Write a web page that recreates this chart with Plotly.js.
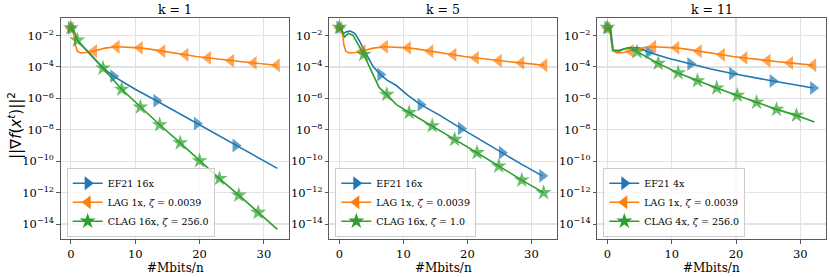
<!DOCTYPE html>
<html><head><meta charset="utf-8">
<script src="https://cdn.plot.ly/plotly-3.0.1.min.js"></script>
<style>html,body{margin:0;padding:0;background:#fff}#chart{width:830px;height:277px}</style>
</head><body><div id="chart"></div>
<script>
// ---------- data ----------
const panelTitles = ['k = 1', 'k = 5', 'k = 11'];
const xTitle = '#Mbits/n';
const yTitle = '||∇<i>f</i>(<i>x</i><sup><i>t</i></sup>)||<sup>2</sup>';
const xTickVals = [0, 10, 20, 30];
const yTickVals = [1e-2, 1e-4, 1e-6, 1e-8, 1e-10, 1e-12, 1e-14];
const yTickText = ['10<sup>−2</sup>', '10<sup>−4</sup>', '10<sup>−6</sup>', '10<sup>−8</sup>', '10<sup>−10</sup>', '10<sup>−12</sup>', '10<sup>−14</sup>'];

// LAG 1x, zeta = 0.0039 (same run in every panel)
const lag_x = [0, 0.4, 0.7, 1.0, 1.5, 2.5, 3.6, 5.3, 7.1, 9.0, 10.7, 12.5, 14.2, 16.0, 17.8, 19.5, 21.3, 23.0, 24.9, 26.6, 28.4, 30.2, 32.0];
const lag_y = [3.0e-2, 2.8e-2, 2.5e-3, 1.0e-3, 7.9e-4, 8.3e-4, 1.05e-3, 1.58e-3, 1.95e-3, 1.82e-3, 1.66e-3, 1.32e-3, 1.0e-3, 7.6e-4, 6.0e-4, 4.7e-4, 3.8e-4, 3.0e-4, 2.5e-4, 2.14e-4, 1.82e-4, 1.51e-4, 1.29e-4];
const lag_marks = [0, 6, 8, 10, 12, 14, 16, 18, 20, 22];

// k = 1
const k1_ef21_x = [0, 0.5, 1.0, 2, 3, 4, 5, 6.6, 8, 10, 13.3, 16, 19.6, 22, 25.6, 28, 32.1];
const k1_ef21_y = [3.16e-2, 1.26e-2, 5.0e-3, 1.78e-3, 6.3e-4, 2.4e-4, 8.9e-5, 2.6e-5, 1.12e-5, 3.8e-6, 7.1e-7, 1.7e-7, 2.5e-8, 6.9e-9, 1.0e-9, 2.9e-10, 3.5e-11];
const k1_ef21_marks = [0, 7, 10, 12, 14];
const k1_clag_x = [0, 0.5, 1.0, 2.5, 5.0, 7.9, 10.8, 13.8, 17.0, 20.0, 23.1, 26.1, 29.1, 32.1];
const k1_clag_y = [3.16e-2, 2.0e-2, 5.1e-3, 1.12e-3, 8.5e-5, 3.8e-6, 2.8e-7, 2.1e-8, 1.48e-9, 1.07e-10, 7.9e-12, 6.9e-13, 5.5e-14, 4.6e-15];
const k1_clag_marks = [0, 2, 4, 5, 6, 7, 8, 9, 10, 11, 12];

// k = 5
const k5_ef21_x = [0, 0.6, 1.2, 1.7, 2.4, 3.2, 3.7, 4.5, 5.3, 6.4, 7.5, 8.9, 10.7, 12.7, 15.7, 19.0, 22.2, 25.4, 28.5, 31.7];
const k5_ef21_y = [3.3e-2, 1.38e-2, 1.78e-2, 1.95e-2, 1.38e-2, 4.1e-3, 1.51e-3, 3.5e-4, 1.02e-4, 3.3e-5, 1.41e-5, 6.6e-6, 1.58e-6, 4.0e-7, 8.3e-8, 1.23e-8, 2.0e-9, 3.5e-10, 6.3e-11, 1.17e-11];
const k5_ef21_marks = [0, 9, 13, 15, 17, 19];
const k5_clag_x = [0, 0.4, 0.8, 1.4, 2.1, 2.8, 3.8, 4.7, 5.4, 6.2, 7.4, 8.9, 10.9, 14.5, 18.0, 21.5, 24.9, 28.5, 31.9];
const k5_clag_y = [3.3e-2, 2.0e-2, 8.3e-3, 1.38e-2, 1.07e-2, 3.2e-3, 6.3e-4, 1.02e-4, 2.4e-5, 5.0e-6, 1.78e-6, 4.0e-7, 1.26e-7, 1.82e-8, 2.45e-9, 3.5e-10, 4.9e-11, 6.3e-12, 1.0e-12];
const k5_clag_marks = [0, 6, 10, 12, 13, 14, 15, 16, 17, 18];

// k = 11
const k11_ef21_x = [0, 0.5, 0.9, 1.7, 2.8, 3.8, 5.0, 6.4, 9.6, 12.9, 16.1, 19.4, 22.5, 25.7, 28.9, 32.0];
const k11_ef21_y = [3.3e-2, 2.5e-2, 1.2e-3, 1.12e-3, 1.51e-3, 1.7e-3, 1.58e-3, 8.7e-4, 3.5e-4, 1.58e-4, 7.4e-5, 3.8e-5, 2.14e-5, 1.29e-5, 7.6e-6, 4.6e-6];
const k11_ef21_marks = [0, 7, 9, 11, 13, 15];
const k11_clag_x = [0, 0.4, 0.8, 1.8, 2.8, 3.6, 4.6, 7.9, 11.0, 14.0, 17.0, 20.2, 23.2, 26.3, 29.4, 32.2];
const k11_clag_y = [3.3e-2, 2.8e-2, 1.12e-3, 1.0e-3, 1.51e-3, 1.78e-3, 9.3e-4, 1.7e-4, 4.2e-5, 1.32e-5, 4.6e-6, 1.55e-6, 5.6e-7, 2.0e-7, 8.3e-8, 3.2e-8];
const k11_clag_marks = [0, 6, 7, 8, 9, 10, 11, 12, 13, 14];

const legendNames = [
  ['EF21 16x', 'LAG 1x, <i>ζ</i> = 0.0039', 'CLAG 16x, <i>ζ</i> = 256.0'],
  ['EF21 16x', 'LAG 1x, <i>ζ</i> = 0.0039', 'CLAG 16x, <i>ζ</i> = 1.0'],
  ['EF21 4x', 'LAG 1x, <i>ζ</i> = 0.0039', 'CLAG 4x, <i>ζ</i> = 256.0']
];

// ---------- styling / build ----------
const COLORS = ['#1f77b4', '#ff7f0e', '#2ca02c'];
const SYMBOLS = ['triangle-right', 'triangle-left', 'star'];
const MSIZE = [12, 12, 12];
const FONT = 'DejaVu Serif';

const panels = [
  [[k1_ef21_x, k1_ef21_y, k1_ef21_marks], [lag_x, lag_y, lag_marks], [k1_clag_x, k1_clag_y, k1_clag_marks]],
  [[k5_ef21_x, k5_ef21_y, k5_ef21_marks], [lag_x, lag_y, lag_marks], [k5_clag_x, k5_clag_y, k5_clag_marks]],
  [[k11_ef21_x, k11_ef21_y, k11_ef21_marks], [lag_x, lag_y, lag_marks], [k11_clag_x, k11_clag_y, k11_clag_marks]]
];

const W = 830, H = 277;
const xDomPx = [[60.7, 289.3], [329.3, 556.7], [597.3, 825.7]];
const yDomPx = [18.3, 239.3];
const yDom = [(H - yDomPx[1]) / H, (H - yDomPx[0]) / H];

const traces = [];
panels.forEach((series, p) => {
  const sfx = p === 0 ? '' : String(p + 1);
  series.forEach((s, j) => {
    const [xs, ys, marks] = s;
    traces.push({
      type: 'scatter', mode: 'lines+markers',
      x: xs, y: ys,
      name: legendNames[p][j],
      xaxis: 'x' + sfx, yaxis: 'y' + sfx,
      showlegend: false,
      line: {color: COLORS[j], width: 1.6},
      marker: {symbol: SYMBOLS[j], color: COLORS[j],
               size: xs.map((_, i) => marks.includes(i) ? MSIZE[j] : 0),
               line: {width: 0}}
    });
  });
});
panels.forEach((series, p) => {
  const sfx = p === 0 ? '' : String(p + 1);
  series.forEach((s, j) => {
    traces.push({
      type: 'scatter', mode: 'lines+markers',
      x: [null], y: [null],
      name: legendNames[p][j],
      xaxis: 'x' + sfx, yaxis: 'y' + sfx,
      legend: 'legend' + sfx,
      line: {color: COLORS[j], width: 1.6},
      marker: {symbol: SYMBOLS[j], color: COLORS[j], size: MSIZE[j], line: {width: 0}}
    });
  });
});

const layout = {
  width: W, height: H,
  margin: {l: 0, r: 0, t: 0, b: 0},
  paper_bgcolor: '#fff', plot_bgcolor: '#fff',
  font: {family: FONT, size: 12, color: '#000'},
  showlegend: true,
  annotations: []
};

xDomPx.forEach((d, p) => {
  const sfx = p === 0 ? '' : String(p + 1);
  const axCommon = {
    showline: true, mirror: true, linecolor: '#5a5a5a', linewidth: 1,
    showgrid: true, gridcolor: '#e2e2e2', gridwidth: 1.2,
    ticks: 'outside', ticklen: 3.5, tickwidth: 1, tickcolor: '#5a5a5a',
    tickfont: {family: FONT, size: 11.5, color: '#000'},
    zeroline: false
  };
  layout['xaxis' + sfx] = Object.assign({}, axCommon, {
    domain: [d[0] / W, d[1] / W], anchor: 'y' + sfx,
    range: [-1.58, 33.95], tickmode: 'array', tickvals: xTickVals,
    ticktext: xTickVals.map(String)
  });
  layout['yaxis' + sfx] = Object.assign({}, axCommon, {
    domain: yDom, anchor: 'x' + sfx, type: 'log',
    range: [-14.97, -0.90], tickmode: 'array', tickvals: yTickVals, ticktext: yTickText
  });
  layout['legend' + sfx] = {
    x: (d[0] + 6) / W, y: (H - 236.7) / H, xanchor: 'left', yanchor: 'bottom',
    xref: 'paper', yref: 'paper',
    bgcolor: 'rgba(255,255,255,0.8)', bordercolor: '#cccccc', borderwidth: 1,
    font: {family: FONT, size: 9.5, color: '#000'},
    tracegroupgap: 0
  };
  const cx = (d[0] + d[1]) / 2 / W;
  layout.annotations.push({
    text: panelTitles[p], x: cx, y: 1 - 10 / H, xref: 'paper', yref: 'paper',
    xanchor: 'center', yanchor: 'middle', showarrow: false,
    font: {family: FONT, size: 12.5, color: '#000'}
  });
  layout.annotations.push({
    text: xTitle, x: cx, y: 9 / H, xref: 'paper', yref: 'paper',
    xanchor: 'center', yanchor: 'middle', showarrow: false,
    font: {family: FONT, size: 12, color: '#000'}
  });
});
layout.annotations.push({
  text: yTitle, x: 15 / W, y: 1 - 126 / H, xref: 'paper', yref: 'paper',
  xanchor: 'center', yanchor: 'middle', textangle: -90, showarrow: false,
  font: {family: 'DejaVu Sans', size: 15, color: '#000'}
});

Plotly.newPlot('chart', traces, layout, {displayModeBar: false, staticPlot: true});
</script>
</body></html>
